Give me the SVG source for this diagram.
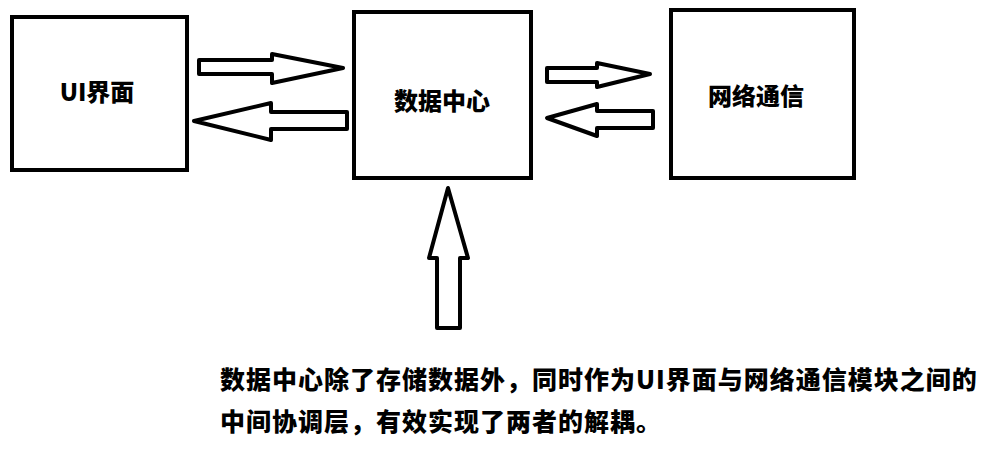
<svg xmlns="http://www.w3.org/2000/svg" width="1007" height="452" viewBox="0 0 1007 452">
<style>
.box{fill:#fff;stroke:#000;stroke-width:4}
.ar{fill:#fff;stroke:#000;stroke-width:4;stroke-linejoin:round}
text{font-family:"Noto Sans CJK SC","Liberation Sans",sans-serif;font-weight:900;fill:#000}
.lbl{font-size:24px}
.note{font-size:25px;letter-spacing:1px}
</style>
<rect width="1007" height="452" fill="#fff"/>
<g id="ui"><rect class="box" x="12" y="17" width="175" height="153"/><text class="lbl" x="97" y="101" text-anchor="middle">UI界面</text></g>
<g id="center"><rect class="box" x="354" y="12" width="177" height="166"/><text class="lbl" x="442" y="110" text-anchor="middle">数据中心</text></g>
<g id="net"><rect class="box" x="671" y="10" width="183" height="168"/><text class="lbl" x="756" y="105" text-anchor="middle">网络通信</text></g>
<g id="connectors">
<polygon class="ar" points="199,60 272,60 272,54 343,68 272,83 272,74 199,74"/>
<polygon class="ar" points="347,112 271,112 271,103 194,121 271,140 271,129 347,129"/>
<polygon class="ar" points="547,68 597,68 597,63 650,74 597,87 597,82 547,82"/>
<polygon class="ar" points="653,111 597,111 597,104 547,118 597,136 597,128 653,128"/>
<polygon class="ar" points="448,188 468,258 460,258 460,328 437,328 437,258 429,258"/>
</g>
<text class="note" x="220" y="389">数据中心除了存储数据外，同时作为UI界面与网络通信模块之间的</text>
<text class="note" x="220" y="431">中间协调层，有效实现了两者的解耦。</text>
</svg>
